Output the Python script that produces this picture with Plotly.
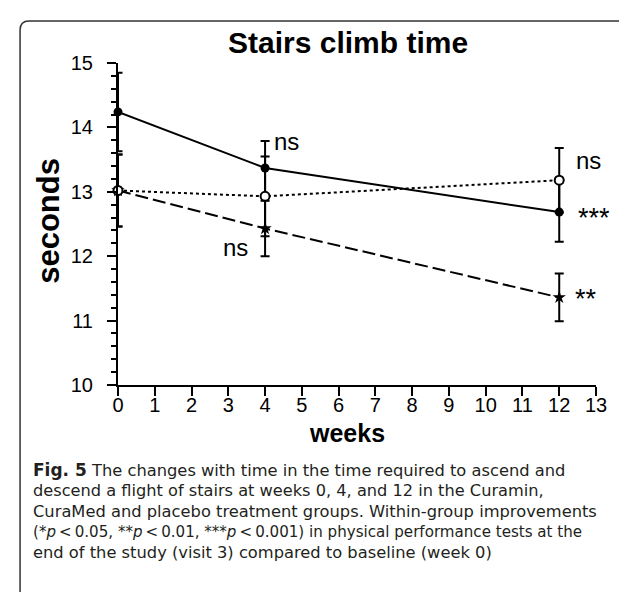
import plotly.graph_objects as go

# ---- data ----
weeks = [0, 4, 12]
solid_vals = [14.24, 13.37, 12.685]
solid_err = [0.61, 0.42, 0.46]
dotted_vals = [13.02, 12.93, 13.18]
dotted_err = [0.56, 0.62, 0.50]
dashed_vals = [13.02, 12.43, 11.36]
dashed_err = [0.56, 0.43, 0.37]

x_ticks = list(range(0, 14))
y_ticks = [10, 11, 12, 13, 14, 15]

sig_texts = ["ns", "ns", "ns", "***", "**"]
sig_x = [4.20, 3.60, 12.40, 12.45, 12.38]
sig_y = [13.78, 12.13, 13.48, 12.60, 11.33]
sig_anchor = ["left", "right", "left", "left", "left"]

title_text = "Stairs climb time"
x_title = "weeks"
y_title = "seconds"

SA = '<span style="font-size:15px">'
TS = "\u2009"
caption_lines = [
    '<span style="font-size:17px"><b>Fig. 5</b></span> The changes with time in the time required to ascend and',
    "descend a flight of stairs at weeks 0, 4, and 12 in the Curamin,",
    "CuraMed and placebo treatment groups. Within-group improvements",
    "(" + SA + "*</span><i>p</i>" + TS + "&lt;" + TS + "0.05, " + SA + "**</span><i>p</i>" + TS + "&lt;" + TS
    + "0.01, " + SA + "***</span><i>p</i>" + TS + "&lt;" + TS + "0.001) in physical performance tests at the",
    "end of the study (visit 3) compared to baseline (week 0)",
]
caption_sizes = [16.3, 16.2, 16.3, 15.1, 16.3]

# ---- geometry (pixels) ----
W, H = 627, 592
L, R, T, B = 110, 588.3, 55, 377.5
pw, ph = R - L, B - T

def px(x):
    return (x - L) / pw

def py(y):
    return (B - y) / ph

FONT = "Liberation Sans, Arial, sans-serif"
fig = go.Figure()

err_style = dict(type="data", thickness=2, width=4.5, color="black")

fig.add_trace(go.Scatter(
    x=weeks, y=dashed_vals, mode="lines+markers",
    line=dict(color="black", width=2, dash="13px,5px"),
    marker=dict(symbol="star", size=10, color="black"),
    error_y=dict(array=dashed_err, **err_style),
    cliponaxis=False, showlegend=False))

fig.add_trace(go.Scatter(
    x=weeks, y=solid_vals, mode="lines+markers",
    line=dict(color="black", width=2),
    marker=dict(symbol="circle", size=9, color="black"),
    error_y=dict(array=solid_err, **err_style),
    cliponaxis=False, showlegend=False))

fig.add_trace(go.Scatter(
    x=weeks, y=dotted_vals, mode="lines+markers",
    line=dict(color="black", width=2, dash="3px,3px"),
    marker=dict(symbol="circle", size=9, color="white",
                line=dict(color="black", width=2)),
    error_y=dict(array=dotted_err, **err_style),
    cliponaxis=False, showlegend=False))

annotations = []
for t, xv, yv, an in zip(sig_texts, sig_x, sig_y, sig_anchor):
    size = 24 if t == "ns" else 27
    annotations.append(dict(x=xv, y=yv, xref="x", yref="y", text=t, showarrow=False,
                            xanchor=an, yanchor="middle",
                            font=dict(family=FONT, size=size, color="black")))

annotations.append(dict(x=px(340.5), y=py(34), xref="paper", yref="paper",
                        text="<b>%s</b>" % title_text, showarrow=False,
                        xanchor="center", yanchor="middle",
                        font=dict(family=FONT, size=30, color="black")))
annotations.append(dict(x=px(41), y=py(213), xref="paper", yref="paper",
                        text="<b>%s</b>" % y_title, showarrow=False, textangle=-90,
                        xanchor="center", yanchor="middle",
                        font=dict(family=FONT, size=31, color="black")))
annotations.append(dict(x=px(339), y=py(426), xref="paper", yref="paper",
                        text="<b>%s</b>" % x_title, showarrow=False,
                        xanchor="center", yanchor="middle",
                        font=dict(family=FONT, size=25, color="black")))

caption_html = "<br>".join('<span style="font-size:%spx">%s</span>' % (s, t)
                           for t, s in zip(caption_lines, caption_sizes))
annotations.append(dict(x=px(24), y=py(504), xref="paper", yref="paper",
                        text=caption_html, showarrow=False, align="left",
                        xanchor="left", yanchor="middle", borderpad=0,
                        font=dict(family="DejaVu Sans, sans-serif", size=15.7, color="#231f20")))

# border with rounded top-left corner
r = 9
x0, y0 = 12, 13
path = ("M %f,%f L %f,%f Q %f,%f %f,%f L %f,%f" % (
    px(x0), py(592), px(x0), py(y0 + r), px(x0), py(y0), px(x0 + r), py(y0), px(627), py(y0)))
shapes = [dict(type="path", path=path, xref="paper", yref="paper",
               line=dict(color="#333333", width=1.5))]

fig.update_layout(
    width=W, height=H,
    margin=dict(l=L, r=W - R, t=T, b=H - B, pad=0),
    paper_bgcolor="white", plot_bgcolor="white",
    annotations=annotations, shapes=shapes,
    xaxis=dict(range=[0, 13], tickvals=x_ticks, ticktext=[str(v) for v in x_ticks],
               showgrid=False, zeroline=False, showline=True, linecolor="black", linewidth=2,
               ticks="outside", ticklen=9, tickwidth=2, tickcolor="black",
               ticklabelstandoff=-8,
               tickfont=dict(family=FONT, size=20, color="black")),
    yaxis=dict(range=[10, 15], tickvals=y_ticks, ticktext=[str(v) for v in y_ticks],
               showgrid=False, zeroline=False, showline=True, linecolor="black", linewidth=2,
               ticks="outside", ticklen=9, tickwidth=2, tickcolor="black",
               ticklabelstandoff=10,
               minor=dict(dtick=0.2, ticks="outside", ticklen=5, tickwidth=1.5, tickcolor="black",
                          showgrid=False),
               tickfont=dict(family=FONT, size=20, color="black")),
)

fig.write_html("out.html")
